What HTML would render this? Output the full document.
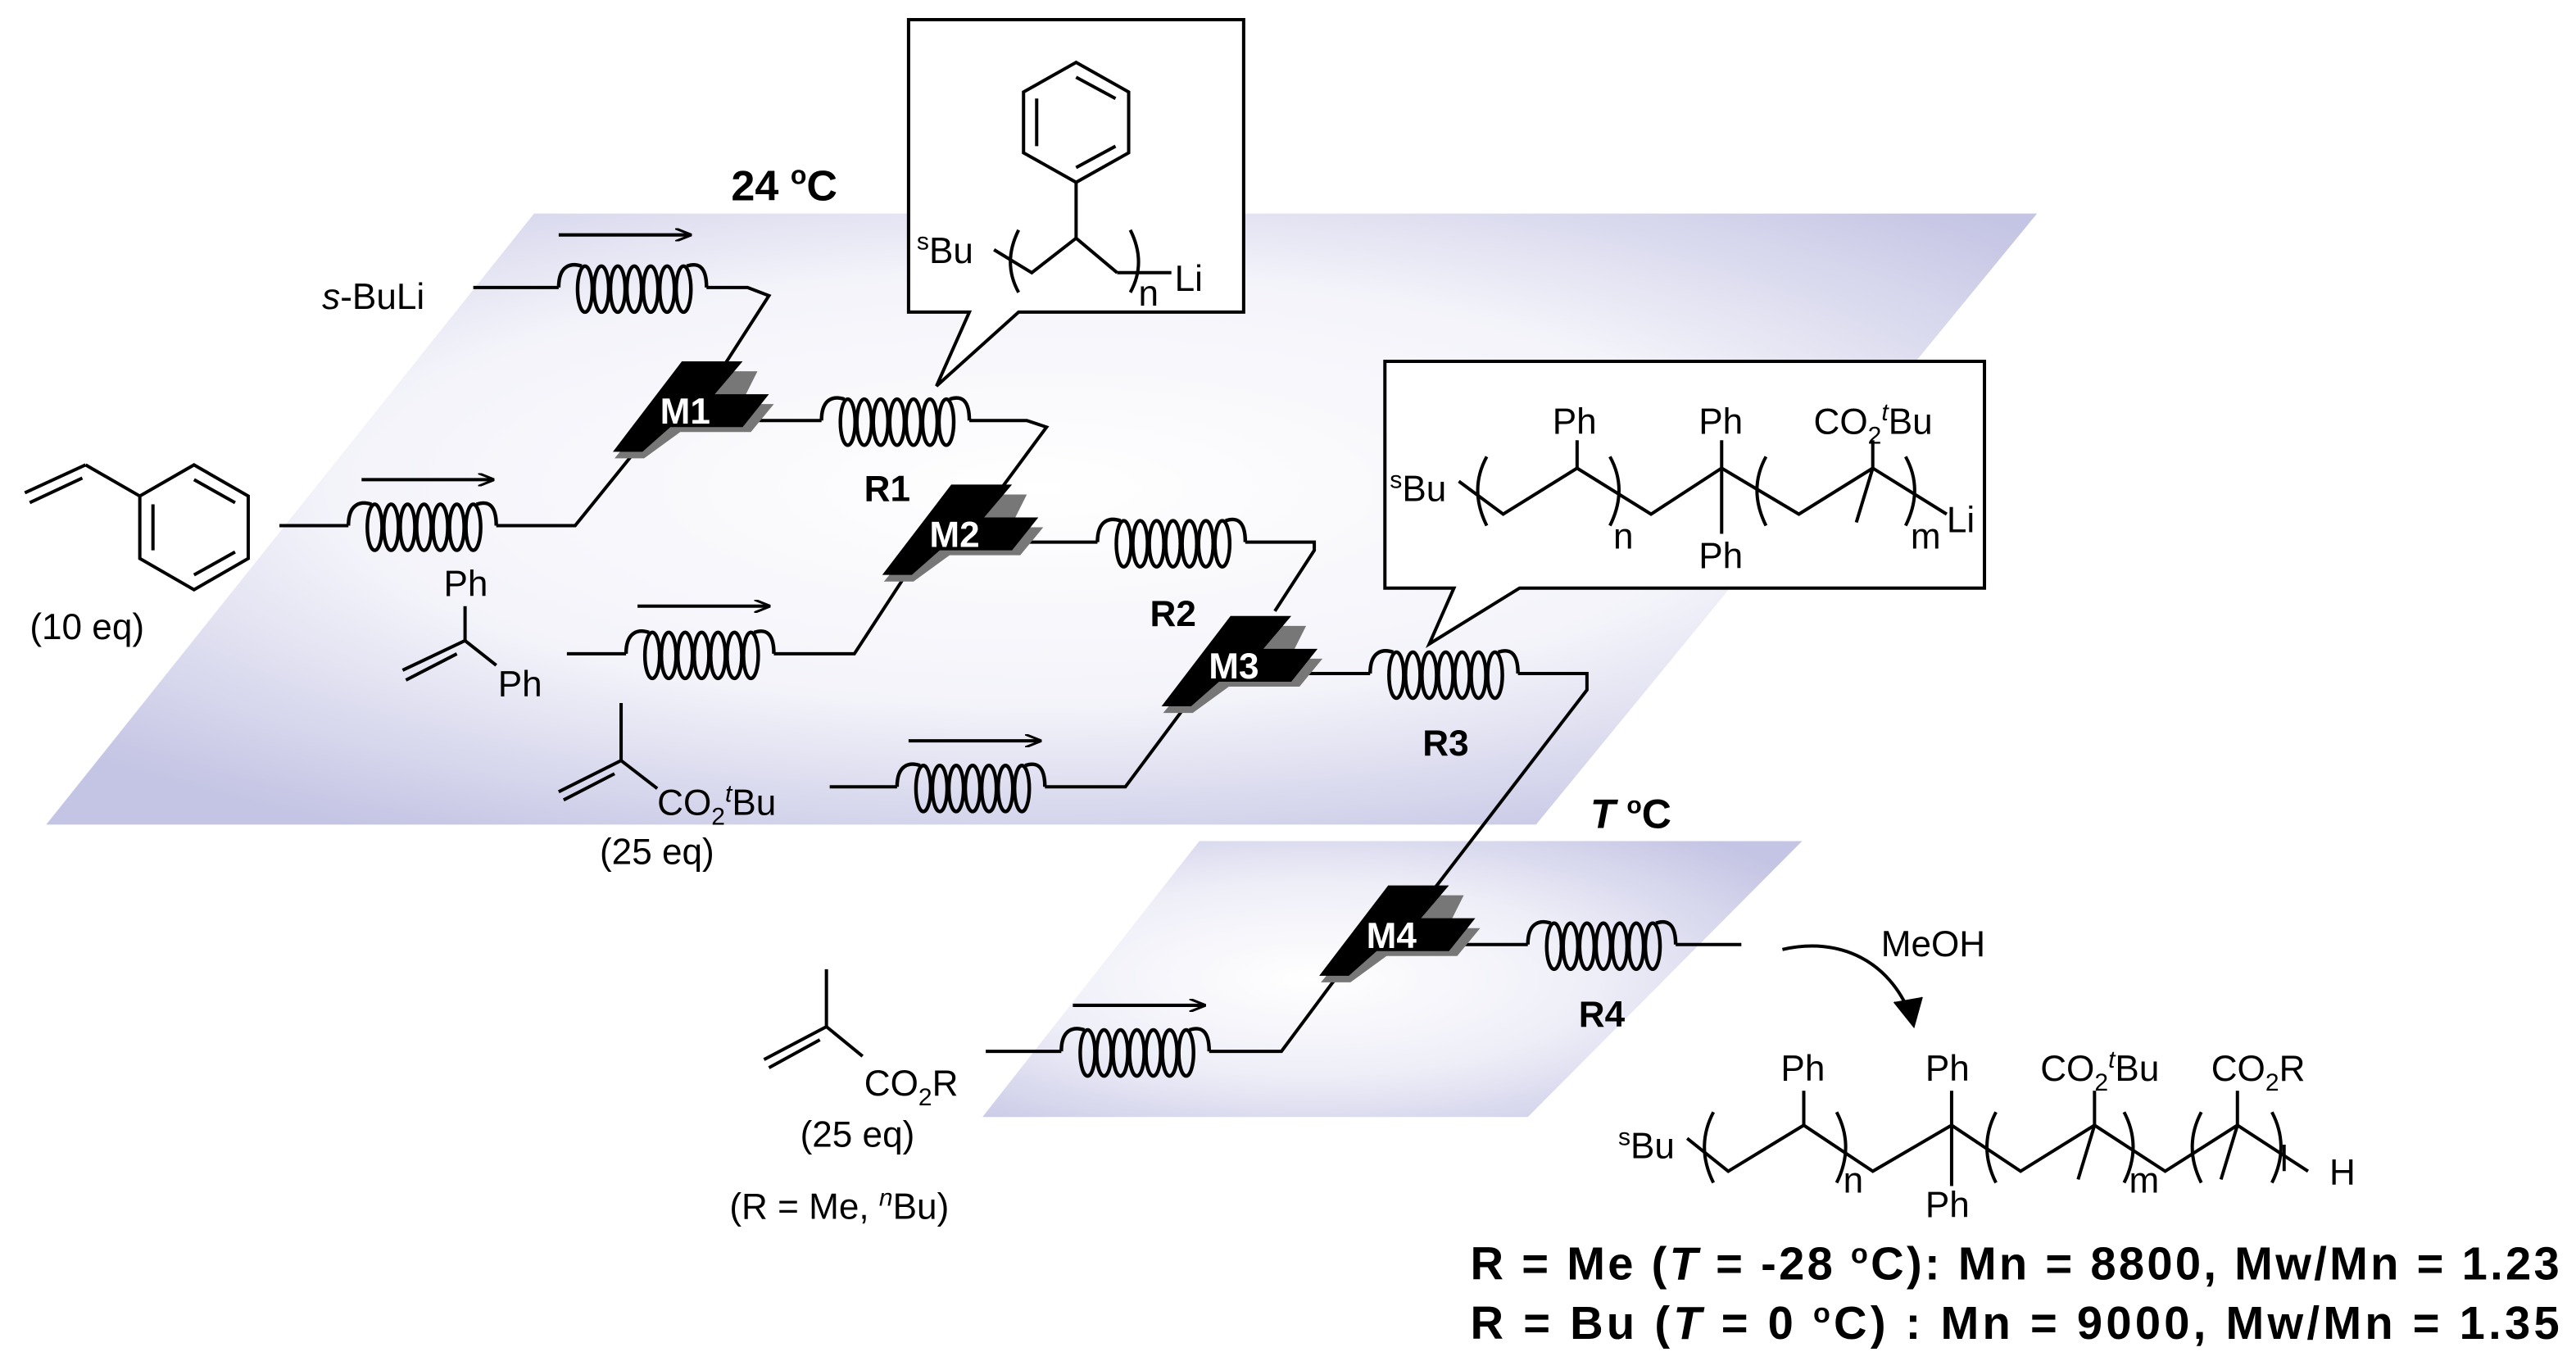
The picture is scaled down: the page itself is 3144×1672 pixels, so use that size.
<!DOCTYPE html>
<html><head><meta charset="utf-8"><style>
html,body{margin:0;padding:0;background:#fff;}
svg{display:block;}
text{font-family:"Liberation Sans",Arial,sans-serif;fill:#000;}
.b{font-weight:bold;}
</style></head><body>
<svg width="3144" height="1672" viewBox="0 0 1568 834" xmlns="http://www.w3.org/2000/svg">
<defs>
<radialGradient id="g1" cx="0.5" cy="0.45" r="0.65">
<stop offset="0" stop-color="#ffffff"/><stop offset="0.55" stop-color="#f3f3fa"/><stop offset="1" stop-color="#c4c4e4"/>
</radialGradient>
<radialGradient id="g2" cx="0.4" cy="0.5" r="0.7">
<stop offset="0" stop-color="#ffffff"/><stop offset="0.5" stop-color="#eeeef8"/><stop offset="1" stop-color="#c4c4e4"/>
</radialGradient>
<g id="coil" fill="none" stroke="#000" stroke-width="2.2">
<path d="M0,0 C0,-14 8,-15 14,-13"/>
<ellipse cx="16" cy="1" rx="4.5" ry="14"/>
<ellipse cx="26" cy="1" rx="4.5" ry="14"/>
<ellipse cx="36" cy="1" rx="4.5" ry="14"/>
<ellipse cx="46" cy="1" rx="4.5" ry="14"/>
<ellipse cx="56" cy="1" rx="4.5" ry="14"/>
<ellipse cx="66" cy="1" rx="4.5" ry="14"/>
<ellipse cx="76" cy="1" rx="4.5" ry="14"/>
<path d="M78,-13 C84,-15 90,-14 90,0"/>
</g>
<g id="mx">
<polygon points="-3,-28 34,-28 40,-28 30,-8 50,-8 36,9 -7,9 -29,25 -47,25" fill="#777" transform="translate(3,4)"/>
<polygon points="-3,-30 34,-30 17,-10 50,-10 34,10 -10,10 -27,25 -45,25" fill="#000"/>
</g>
<marker id="ah" markerWidth="10" markerHeight="8" refX="9" refY="4" orient="auto" markerUnits="userSpaceOnUse">
<path d="M0,0 L10,4 L0,8" fill="none" stroke="#000" stroke-width="1.5"/>
</marker>
</defs>

<polygon points="325,130 1240,130 935,502 28,502" fill="url(#g1)"/>
<polygon points="730,512 1097,512 930,680 598,680" fill="url(#g2)"/>

<g fill="none" stroke="#000" stroke-width="2">
<line x1="288" y1="175" x2="340" y2="175"/>
<path d="M430,175 L455,175 L468,180 L468,180 L441,222"/>
<line x1="340" y1="143" x2="420" y2="143" marker-end="url(#ah)"/>
<line x1="170" y1="320" x2="212" y2="320"/>
<path d="M302,320 L350,320 L392,268"/>
<line x1="220" y1="292" x2="300" y2="292" marker-end="url(#ah)"/>
<line x1="453" y1="256" x2="500" y2="256"/>
<path d="M590,256 L625,256 L637,260 L606,302"/>
<line x1="617" y1="330" x2="668" y2="330"/>
<path d="M758,330 L800,330 L800,335 L776,372"/>
<line x1="345" y1="398" x2="381" y2="398"/>
<path d="M471,398 L520,398 L550,352"/>
<line x1="388" y1="369" x2="468" y2="369" marker-end="url(#ah)"/>
<line x1="787" y1="410" x2="834" y2="410"/>
<path d="M924,410 L966,410 L966,420 L870,545"/>
<line x1="505" y1="479" x2="546" y2="479"/>
<path d="M636,479 L685,479 L720,432"/>
<line x1="553" y1="451" x2="633" y2="451" marker-end="url(#ah)"/>
<line x1="883" y1="575" x2="930" y2="575"/>
<line x1="1020" y1="575" x2="1060" y2="575"/>
<line x1="600" y1="640" x2="646" y2="640"/>
<path d="M736,640 L780,640 L812,597"/>
<line x1="653" y1="612" x2="733" y2="612" marker-end="url(#ah)"/>
<path d="M1085,578 C1120,570 1150,585 1163,618" />
<path d="M1153,610 L1165,625 L1170,607" fill="#000" stroke-width="1"/>
</g>

<use href="#coil" x="340" y="175"/>
<use href="#coil" x="212" y="320"/>
<use href="#coil" x="500" y="256"/>
<use href="#coil" x="668" y="330"/>
<use href="#coil" x="381" y="398"/>
<use href="#coil" x="834" y="410"/>
<use href="#coil" x="546" y="479"/>
<use href="#coil" x="930" y="575"/>
<use href="#coil" x="646" y="640"/>

<use href="#mx" x="418" y="250"/>
<use href="#mx" x="582" y="325"/>
<use href="#mx" x="752" y="405"/>
<use href="#mx" x="848" y="569"/>
<g class="b" font-size="22" text-anchor="middle">
<text x="417" y="258" style="fill:#fff">M1</text>
<text x="581" y="333" style="fill:#fff">M2</text>
<text x="751" y="413" style="fill:#fff">M3</text>
<text x="847" y="577" style="fill:#fff">M4</text>
</g>

<g class="b" font-size="22" text-anchor="middle">
<text x="540" y="305" class="b">R1</text>
<text x="714" y="381" class="b">R2</text>
<text x="880" y="460" class="b">R3</text>
<text x="975" y="625" class="b">R4</text>
</g>
<text x="445" y="122" font-size="26" class="b">24 <tspan font-size="16" dy="-10">o</tspan><tspan dy="10">C</tspan></text>
<text x="968" y="504" font-size="25" class="b"><tspan font-style="italic">T</tspan> <tspan font-size="15" dy="-9">o</tspan><tspan dy="9">C</tspan></text>

<text x="196" y="188" font-size="22"><tspan font-style="italic">s</tspan>-BuLi</text>

<g fill="none" stroke="#000" stroke-width="2">
<polygon points="118,283 151,302 151,340 118,359 85,340 85,302"/>
<line x1="93" y1="307" x2="93" y2="335"/><line x1="118" y1="350" x2="143" y2="336"/><line x1="118" y1="292" x2="143" y2="306"/>
<line x1="85" y1="302" x2="52" y2="283"/><line x1="52" y1="283" x2="15" y2="300"/><line x1="50" y1="291" x2="18" y2="306"/>
</g>
<text x="18" y="389" font-size="22">(10 eq)</text>

<text x="270" y="363" font-size="22">Ph</text>
<g fill="none" stroke="#000" stroke-width="2">
<line x1="283" y1="369" x2="283" y2="390"/><line x1="283" y1="390" x2="302" y2="405"/>
<line x1="283" y1="390" x2="245" y2="408"/><line x1="278" y1="398" x2="247" y2="414"/>
</g>
<text x="303" y="424" font-size="22">Ph</text>

<g fill="none" stroke="#000" stroke-width="2">
<line x1="378" y1="428" x2="378" y2="463"/><line x1="378" y1="463" x2="340" y2="482"/><line x1="374" y1="471" x2="343" y2="487"/>
<line x1="378" y1="463" x2="400" y2="480"/>
</g>
<text x="400" y="496" font-size="22">CO<tspan font-size="15" dy="6">2</tspan><tspan font-size="15" font-style="italic" dy="-14">t</tspan><tspan dy="8">Bu</tspan></text>
<text x="365" y="526" font-size="22">(25 eq)</text>

<g fill="none" stroke="#000" stroke-width="2">
<line x1="503" y1="590" x2="503" y2="625"/><line x1="503" y1="625" x2="465" y2="645"/><line x1="499" y1="633" x2="468" y2="650"/>
<line x1="503" y1="625" x2="525" y2="643"/>
</g>
<text x="526" y="667" font-size="22">CO<tspan font-size="15" dy="6">2</tspan><tspan dy="-6">R</tspan></text>
<text x="487" y="698" font-size="22">(25 eq)</text>
<text x="444" y="742" font-size="22">(R = Me, <tspan font-size="15" font-style="italic" dy="-8">n</tspan><tspan dy="8">Bu)</tspan></text>

<path d="M553,12 L757,12 L757,190 L620,190 L570,235 L590,190 L553,190 Z" fill="#fff" stroke="#000" stroke-width="2"/>
<g fill="none" stroke="#000" stroke-width="2">
<polygon points="655,38 687,56 687,93 655,111 623,93 623,56"/>
<line x1="631" y1="60" x2="631" y2="89"/><line x1="655" y1="102" x2="679" y2="89"/><line x1="655" y1="47" x2="679" y2="60"/>
<line x1="655" y1="111" x2="655" y2="145"/>
<path d="M605,152 L628,166 L655,145 L680,166"/>
<path d="M620,140 Q610,160 620,178"/><path d="M688,140 Q698,160 688,178"/>
<line x1="680" y1="166" x2="713" y2="166"/>
</g>
<text x="558" y="160" font-size="22"><tspan font-size="15" dy="-8">s</tspan><tspan dy="8">Bu</tspan></text>
<text x="693" y="186" font-size="22">n</text>
<text x="715" y="177" font-size="22">Li</text>

<path d="M843,220 L1208,220 L1208,358 L925,358 L870,392 L885,358 L843,358 Z" fill="#fff" stroke="#000" stroke-width="2"/>
<text x="846" y="305" font-size="22"><tspan font-size="15" dy="-8">s</tspan><tspan dy="8">Bu</tspan></text>
<g fill="none" stroke="#000" stroke-width="2">
<path d="M888,293 L915,313 L960,285 L1005,313 L1048,285 L1095,313 L1140,285 L1185,313"/>
<line x1="960" y1="285" x2="960" y2="268"/>
<line x1="1048" y1="285" x2="1048" y2="268"/><line x1="1048" y1="285" x2="1048" y2="325"/>
<line x1="1140" y1="285" x2="1140" y2="268"/><line x1="1140" y1="285" x2="1130" y2="318"/>
<path d="M905,278 Q894,298 905,320"/><path d="M980,278 Q991,298 980,320"/>
<path d="M1075,278 Q1064,298 1075,320"/><path d="M1160,278 Q1171,298 1160,320"/>
</g>
<text x="945" y="264" font-size="22">Ph</text>
<text x="1034" y="264" font-size="22">Ph</text>
<text x="1034" y="346" font-size="22">Ph</text>
<text x="1104" y="264" font-size="22">CO<tspan font-size="15" dy="6">2</tspan><tspan font-size="15" font-style="italic" dy="-14">t</tspan><tspan dy="8">Bu</tspan></text>
<text x="982" y="334" font-size="22">n</text>
<text x="1163" y="334" font-size="22">m</text>
<text x="1185" y="324" font-size="22">Li</text>

<text x="1145" y="582" font-size="22">MeOH</text>

<text x="985" y="705" font-size="22"><tspan font-size="15" dy="-8">s</tspan><tspan dy="8">Bu</tspan></text>
<g fill="none" stroke="#000" stroke-width="2">
<path d="M1027,693 L1052,713 L1098,685 L1140,713 L1188,685 L1230,713 L1275,685 L1318,713 L1362,685 L1405,713"/>
<line x1="1098" y1="685" x2="1098" y2="664"/>
<line x1="1188" y1="685" x2="1188" y2="664"/><line x1="1188" y1="685" x2="1188" y2="722"/>
<line x1="1275" y1="685" x2="1275" y2="664"/><line x1="1275" y1="685" x2="1265" y2="718"/>
<line x1="1362" y1="685" x2="1362" y2="664"/><line x1="1362" y1="685" x2="1352" y2="718"/>
<path d="M1043,677 Q1032,698 1043,720"/><path d="M1118,677 Q1129,698 1118,720"/>
<path d="M1215,677 Q1204,698 1215,720"/><path d="M1293,677 Q1304,698 1293,720"/>
<path d="M1340,677 Q1329,698 1340,720"/><path d="M1383,677 Q1394,698 1383,720"/>
</g>
<text x="1084" y="658" font-size="22">Ph</text>
<text x="1172" y="658" font-size="22">Ph</text>
<text x="1172" y="741" font-size="22">Ph</text>
<text x="1242" y="658" font-size="22">CO<tspan font-size="15" dy="6">2</tspan><tspan font-size="15" font-style="italic" dy="-14">t</tspan><tspan dy="8">Bu</tspan></text>
<text x="1346" y="658" font-size="22">CO<tspan font-size="15" dy="6">2</tspan><tspan dy="-6">R</tspan></text>
<text x="1122" y="726" font-size="22">n</text>
<text x="1296" y="726" font-size="22">m</text>
<text x="1388" y="713" font-size="22">l</text>
<text x="1418" y="721" font-size="22">H</text>

<text x="895" y="779" font-size="28" class="b" textLength="663" lengthAdjust="spacing">R = Me (<tspan font-style="italic">T</tspan> = -28 <tspan font-size="17" dy="-10">o</tspan><tspan dy="10">C): Mn = 8800, Mw/Mn = 1.23</tspan></text>
<text x="895" y="815" font-size="28" class="b" textLength="663" lengthAdjust="spacing">R = Bu (<tspan font-style="italic">T</tspan> = 0 <tspan font-size="17" dy="-10">o</tspan><tspan dy="10">C)   : Mn = 9000, Mw/Mn = 1.35</tspan></text>
</svg>
</body></html>
